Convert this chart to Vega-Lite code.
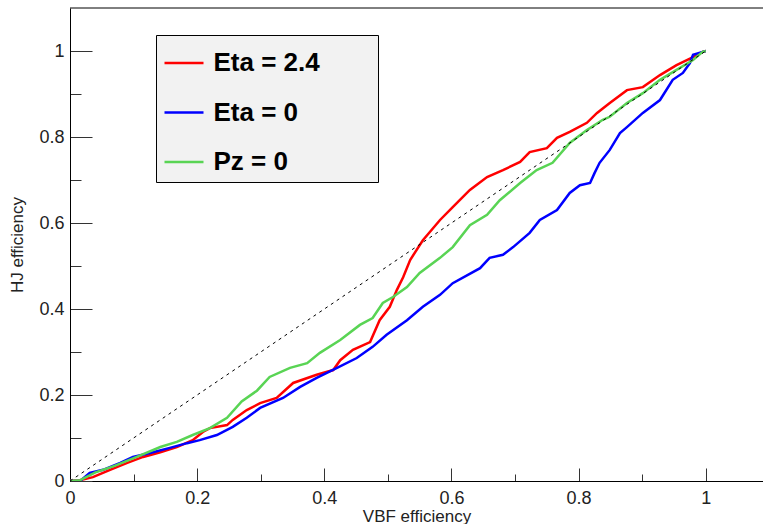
{
  "$schema": "https://vega.github.io/schema/vega-lite/v6.json",
  "autosize": "none",
  "padding": {"left": 70, "top": 8, "right": 0, "bottom": 43},
  "width": 693,
  "height": 473,
  "background": "white",
  "config": {
    "view": {"stroke": null},
    "font": "Liberation Sans",
    "axis": {
      "grid": false,
      "domainColor": "#000000",
      "domainWidth": 1,
      "tickColor": "#333333",
      "tickWidth": 1,
      "labelFont": "Liberation Sans",
      "labelFontSize": 18,
      "labelColor": "#222222",
      "titleFont": "Liberation Sans",
      "titleFontSize": 17,
      "titleFontWeight": "normal",
      "titleColor": "#222222"
    }
  },
  "datasets": {
    "curves": [
      {"s": "Eta = 2.4", "x": 0, "y": 0},
      {"s": "Eta = 2.4", "x": 0.016, "y": 0.002},
      {"s": "Eta = 2.4", "x": 0.036, "y": 0.009},
      {"s": "Eta = 2.4", "x": 0.063, "y": 0.026},
      {"s": "Eta = 2.4", "x": 0.09, "y": 0.042},
      {"s": "Eta = 2.4", "x": 0.115, "y": 0.056},
      {"s": "Eta = 2.4", "x": 0.142, "y": 0.067},
      {"s": "Eta = 2.4", "x": 0.168, "y": 0.079},
      {"s": "Eta = 2.4", "x": 0.193, "y": 0.095},
      {"s": "Eta = 2.4", "x": 0.209, "y": 0.114},
      {"s": "Eta = 2.4", "x": 0.22, "y": 0.123},
      {"s": "Eta = 2.4", "x": 0.247, "y": 0.13},
      {"s": "Eta = 2.4", "x": 0.256, "y": 0.142},
      {"s": "Eta = 2.4", "x": 0.278, "y": 0.165},
      {"s": "Eta = 2.4", "x": 0.299, "y": 0.181},
      {"s": "Eta = 2.4", "x": 0.325, "y": 0.193},
      {"s": "Eta = 2.4", "x": 0.351, "y": 0.228},
      {"s": "Eta = 2.4", "x": 0.388, "y": 0.247},
      {"s": "Eta = 2.4", "x": 0.414, "y": 0.258},
      {"s": "Eta = 2.4", "x": 0.425, "y": 0.281},
      {"s": "Eta = 2.4", "x": 0.445, "y": 0.305},
      {"s": "Eta = 2.4", "x": 0.472, "y": 0.323},
      {"s": "Eta = 2.4", "x": 0.487, "y": 0.374},
      {"s": "Eta = 2.4", "x": 0.503, "y": 0.405},
      {"s": "Eta = 2.4", "x": 0.514, "y": 0.444},
      {"s": "Eta = 2.4", "x": 0.524, "y": 0.474},
      {"s": "Eta = 2.4", "x": 0.535, "y": 0.514},
      {"s": "Eta = 2.4", "x": 0.555, "y": 0.56},
      {"s": "Eta = 2.4", "x": 0.582, "y": 0.607},
      {"s": "Eta = 2.4", "x": 0.602, "y": 0.637},
      {"s": "Eta = 2.4", "x": 0.629, "y": 0.677},
      {"s": "Eta = 2.4", "x": 0.656, "y": 0.707},
      {"s": "Eta = 2.4", "x": 0.681, "y": 0.723},
      {"s": "Eta = 2.4", "x": 0.708, "y": 0.742},
      {"s": "Eta = 2.4", "x": 0.723, "y": 0.765},
      {"s": "Eta = 2.4", "x": 0.75, "y": 0.774},
      {"s": "Eta = 2.4", "x": 0.766, "y": 0.798},
      {"s": "Eta = 2.4", "x": 0.786, "y": 0.812},
      {"s": "Eta = 2.4", "x": 0.813, "y": 0.833},
      {"s": "Eta = 2.4", "x": 0.829, "y": 0.856},
      {"s": "Eta = 2.4", "x": 0.849, "y": 0.879},
      {"s": "Eta = 2.4", "x": 0.876, "y": 0.909},
      {"s": "Eta = 2.4", "x": 0.901, "y": 0.916},
      {"s": "Eta = 2.4", "x": 0.928, "y": 0.944},
      {"s": "Eta = 2.4", "x": 0.954, "y": 0.967},
      {"s": "Eta = 2.4", "x": 0.98, "y": 0.986},
      {"s": "Eta = 2.4", "x": 0.995, "y": 0.998},
      {"s": "Eta = 2.4", "x": 1.0, "y": 1.0},
      {"s": "Eta = 0", "x": 0, "y": 0},
      {"s": "Eta = 0", "x": 0.016, "y": 0.0},
      {"s": "Eta = 0", "x": 0.031, "y": 0.019},
      {"s": "Eta = 0", "x": 0.052, "y": 0.026},
      {"s": "Eta = 0", "x": 0.079, "y": 0.042},
      {"s": "Eta = 0", "x": 0.099, "y": 0.056},
      {"s": "Eta = 0", "x": 0.126, "y": 0.065},
      {"s": "Eta = 0", "x": 0.157, "y": 0.077},
      {"s": "Eta = 0", "x": 0.184, "y": 0.088},
      {"s": "Eta = 0", "x": 0.204, "y": 0.095},
      {"s": "Eta = 0", "x": 0.231, "y": 0.107},
      {"s": "Eta = 0", "x": 0.256, "y": 0.126},
      {"s": "Eta = 0", "x": 0.278, "y": 0.147},
      {"s": "Eta = 0", "x": 0.299, "y": 0.17},
      {"s": "Eta = 0", "x": 0.335, "y": 0.193},
      {"s": "Eta = 0", "x": 0.362, "y": 0.219},
      {"s": "Eta = 0", "x": 0.388, "y": 0.24},
      {"s": "Eta = 0", "x": 0.42, "y": 0.263},
      {"s": "Eta = 0", "x": 0.451, "y": 0.286},
      {"s": "Eta = 0", "x": 0.476, "y": 0.312},
      {"s": "Eta = 0", "x": 0.498, "y": 0.34},
      {"s": "Eta = 0", "x": 0.53, "y": 0.374},
      {"s": "Eta = 0", "x": 0.555, "y": 0.405},
      {"s": "Eta = 0", "x": 0.582, "y": 0.433},
      {"s": "Eta = 0", "x": 0.602, "y": 0.46},
      {"s": "Eta = 0", "x": 0.645, "y": 0.495},
      {"s": "Eta = 0", "x": 0.66, "y": 0.519},
      {"s": "Eta = 0", "x": 0.681, "y": 0.526},
      {"s": "Eta = 0", "x": 0.697, "y": 0.544},
      {"s": "Eta = 0", "x": 0.723, "y": 0.577},
      {"s": "Eta = 0", "x": 0.739, "y": 0.607},
      {"s": "Eta = 0", "x": 0.766, "y": 0.63},
      {"s": "Eta = 0", "x": 0.786, "y": 0.67},
      {"s": "Eta = 0", "x": 0.802, "y": 0.688},
      {"s": "Eta = 0", "x": 0.818, "y": 0.693},
      {"s": "Eta = 0", "x": 0.825, "y": 0.716},
      {"s": "Eta = 0", "x": 0.833, "y": 0.74},
      {"s": "Eta = 0", "x": 0.849, "y": 0.77},
      {"s": "Eta = 0", "x": 0.865, "y": 0.809},
      {"s": "Eta = 0", "x": 0.876, "y": 0.823},
      {"s": "Eta = 0", "x": 0.901, "y": 0.856},
      {"s": "Eta = 0", "x": 0.928, "y": 0.886},
      {"s": "Eta = 0", "x": 0.948, "y": 0.933},
      {"s": "Eta = 0", "x": 0.964, "y": 0.949},
      {"s": "Eta = 0", "x": 0.975, "y": 0.972},
      {"s": "Eta = 0", "x": 0.98, "y": 0.991},
      {"s": "Eta = 0", "x": 0.995, "y": 0.998},
      {"s": "Eta = 0", "x": 1.0, "y": 1.0},
      {"s": "Pz = 0", "x": 0, "y": 0},
      {"s": "Pz = 0", "x": 0.016, "y": 0.002},
      {"s": "Pz = 0", "x": 0.04, "y": 0.02},
      {"s": "Pz = 0", "x": 0.07, "y": 0.035},
      {"s": "Pz = 0", "x": 0.105, "y": 0.056},
      {"s": "Pz = 0", "x": 0.142, "y": 0.079},
      {"s": "Pz = 0", "x": 0.168, "y": 0.091},
      {"s": "Pz = 0", "x": 0.193, "y": 0.107},
      {"s": "Pz = 0", "x": 0.22, "y": 0.123},
      {"s": "Pz = 0", "x": 0.247, "y": 0.147},
      {"s": "Pz = 0", "x": 0.27, "y": 0.185},
      {"s": "Pz = 0", "x": 0.294, "y": 0.21},
      {"s": "Pz = 0", "x": 0.314, "y": 0.242},
      {"s": "Pz = 0", "x": 0.346, "y": 0.263},
      {"s": "Pz = 0", "x": 0.373, "y": 0.274},
      {"s": "Pz = 0", "x": 0.393, "y": 0.298},
      {"s": "Pz = 0", "x": 0.425, "y": 0.328},
      {"s": "Pz = 0", "x": 0.456, "y": 0.363},
      {"s": "Pz = 0", "x": 0.476, "y": 0.379},
      {"s": "Pz = 0", "x": 0.492, "y": 0.414},
      {"s": "Pz = 0", "x": 0.508, "y": 0.428},
      {"s": "Pz = 0", "x": 0.53, "y": 0.451},
      {"s": "Pz = 0", "x": 0.55, "y": 0.484},
      {"s": "Pz = 0", "x": 0.582, "y": 0.519},
      {"s": "Pz = 0", "x": 0.602, "y": 0.544},
      {"s": "Pz = 0", "x": 0.629, "y": 0.595},
      {"s": "Pz = 0", "x": 0.656, "y": 0.619},
      {"s": "Pz = 0", "x": 0.676, "y": 0.653},
      {"s": "Pz = 0", "x": 0.708, "y": 0.693},
      {"s": "Pz = 0", "x": 0.734, "y": 0.723},
      {"s": "Pz = 0", "x": 0.759, "y": 0.74},
      {"s": "Pz = 0", "x": 0.786, "y": 0.786},
      {"s": "Pz = 0", "x": 0.813, "y": 0.816},
      {"s": "Pz = 0", "x": 0.838, "y": 0.84},
      {"s": "Pz = 0", "x": 0.849, "y": 0.847},
      {"s": "Pz = 0", "x": 0.876, "y": 0.879},
      {"s": "Pz = 0", "x": 0.901, "y": 0.902},
      {"s": "Pz = 0", "x": 0.928, "y": 0.933},
      {"s": "Pz = 0", "x": 0.954, "y": 0.956},
      {"s": "Pz = 0", "x": 0.98, "y": 0.979},
      {"s": "Pz = 0", "x": 0.995, "y": 0.998},
      {"s": "Pz = 0", "x": 1.0, "y": 1.0}
    ],
    "diag": [{"x": 0, "y": 0}, {"x": 1, "y": 1}],
    "frame": [{"y": 1.1}]
  },
  "layer": [
    {
      "data": {"name": "curves"},
      "mark": {"type": "line", "strokeWidth": 2.5, "clip": true},
      "encoding": {
        "x": {
          "field": "x", "type": "quantitative",
          "scale": {"domain": [0, 1.09], "nice": false, "zero": false},
          "axis": {
            "title": "VBF efficiency",
            "values": [0, 0.05, 0.1, 0.15, 0.2, 0.25, 0.3, 0.35, 0.4, 0.45, 0.5, 0.55, 0.6, 0.65, 0.7, 0.75, 0.8, 0.85, 0.9, 0.95, 1, 1.05],
            "labelExpr": "abs(datum.value*5-round(datum.value*5))<0.001 ? format(datum.value,'~g') : ''",
            "tickSize": {"condition": {"test": "abs(datum.value*5-round(datum.value*5))<0.001", "value": -13}, "value": -7},
            "labelPadding": 21,
            "labelFlush": false,
            "labelOverlap": false,
            "titlePadding": -5
          }
        },
        "y": {
          "field": "y", "type": "quantitative",
          "scale": {"domain": [0, 1.1], "nice": false, "zero": false},
          "axis": {
            "title": "HJ efficiency",
            "values": [0, 0.05, 0.1, 0.15, 0.2, 0.25, 0.3, 0.35, 0.4, 0.45, 0.5, 0.55, 0.6, 0.65, 0.7, 0.75, 0.8, 0.85, 0.9, 0.95, 1, 1.05],
            "labelExpr": "abs(datum.value*5-round(datum.value*5))<0.001 ? format(datum.value,'~g') : ''",
            "tickSize": {"condition": {"test": "abs(datum.value*5-round(datum.value*5))<0.001", "value": -22}, "value": -11},
            "labelPadding": 28,
            "labelFlush": false,
            "labelOverlap": false,
            "titlePadding": 12
          }
        },
        "color": {
          "field": "s", "type": "nominal",
          "scale": {"domain": ["Eta = 2.4", "Eta = 0", "Pz = 0"], "range": ["#ff0000", "#0000ff", "#59d454"]},
          "legend": {
            "orient": "none",
            "legendX": 86,
            "legendY": 27,
            "title": null,
            "fillColor": "#f2f2f2",
            "strokeColor": "#000000",
            "padding": 7,
            "symbolType": "stroke",
            "symbolSize": 1521,
            "symbolStrokeWidth": 2.5,
            "labelFont": "Liberation Sans",
            "labelFontSize": 26,
            "labelFontWeight": "bold",
            "labelColor": "#000000",
            "labelOffset": 8.5,
            "labelLimit": 400,
            "rowPadding": 15.5,
            "labelExpr": "datum.label + '\\u00a0\\u00a0\\u00a0\\u00a0\\u00a0\\u00a0\\u00a0\\u200b'"
          }
        }
      }
    },
    {
      "data": {"name": "diag"},
      "mark": {"type": "line", "color": "#000000", "strokeWidth": 1, "strokeDash": [3, 4]},
      "encoding": {
        "x": {"field": "x", "type": "quantitative"},
        "y": {"field": "y", "type": "quantitative"}
      }
    },
    {
      "data": {"name": "frame"},
      "mark": {"type": "rule", "color": "#000000", "strokeWidth": 1},
      "encoding": {
        "y": {"field": "y", "type": "quantitative"}
      }
    }
  ]
}
